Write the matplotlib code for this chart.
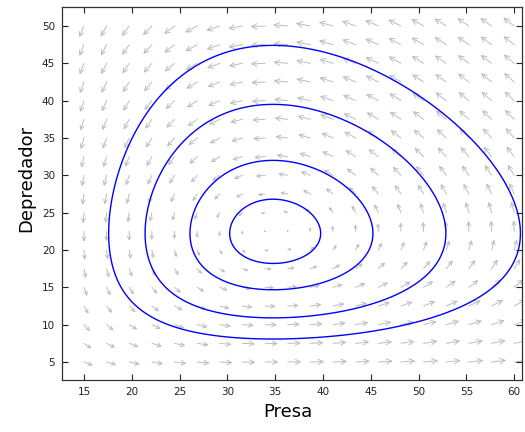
import numpy as np
import matplotlib
matplotlib.use("Agg")
import matplotlib.pyplot as plt
from matplotlib.patches import FancyArrowPatch

# Lotka-Volterra coefficients
alpha, beta = 0.4, 0.018     # prey growth / predation rate
gamma, delta = 0.8, 0.023    # predator death / conversion rate

# Each orbit is given by the predator value where it crosses the prey equilibrium (top of orbit)
orbit_top_pred = [26.8, 32.0, 39.5, 47.4]

# Direction-field grid
field_prey = np.linspace(15, 60, 20)
field_pred = np.linspace(5, 50, 19)

x_ticks = [15, 20, 25, 30, 35, 40, 45, 50, 55, 60]
y_ticks = [5, 10, 15, 20, 25, 30, 35, 40, 45, 50]
x_label = "Presa"
y_label = "Depredador"


def rates(x, y):
    return x * (alpha - beta * y), y * (delta * x - gamma)


def invariant(x, y):
    return delta * x - gamma * np.log(x) + beta * y - alpha * np.log(y)


fig = plt.figure(figsize=(5.25, 4.32), dpi=100)
ax = fig.add_axes([62 / 525, 1 - 380 / 432, 460 / 525, 373 / 432])
ax.set_xlim(12.70, 60.82)
ax.set_ylim(2.59, 52.54)

# direction field: arrow length saturates with speed
X, Y = np.meshgrid(field_prey, field_pred)
U, V = rates(X, Y)
speed = np.hypot(U, V)
length = 1.6 * (1 - np.exp(-speed / 5.0))
dU = U / speed * length
dV = V / speed * length

for x0, y0, du, dv in zip(X.ravel(), Y.ravel(), dU.ravel(), dV.ravel()):
    p0 = ax.transData.transform((x0, y0))
    p1 = ax.transData.transform((x0 + du, y0 + dv))
    lpx = np.hypot(*(p1 - p0))
    arr = FancyArrowPatch((x0, y0), (x0 + du, y0 + dv),
                          arrowstyle="->,head_length=0.36,head_width=0.18",
                          mutation_scale=lpx * 0.72, shrinkA=0, shrinkB=0,
                          color="#bdbdbd", lw=0.7)
    ax.add_patch(arr)

# closed orbits as level sets of the conserved quantity
x_eq = gamma / delta
levels = sorted(invariant(x_eq, yt) for yt in orbit_top_pred)
gx = np.linspace(12.7, 60.82, 700)
gy = np.linspace(2.59, 52.54, 700)
GX, GY = np.meshgrid(gx, gy)
ax.contour(GX, GY, invariant(GX, GY), levels=levels, colors="#0000ff",
           linewidths=1.0, linestyles="solid")

ax.set_xticks(x_ticks)
ax.set_yticks(y_ticks)
ax.tick_params(direction="in", top=True, right=True, length=4, width=0.8,
               labelsize=7.5, pad=5, colors="#222222")
for s in ax.spines.values():
    s.set_linewidth(0.9)
    s.set_color("#333333")

ax.set_xlabel(x_label, fontsize=13)
ax.set_ylabel(y_label, fontsize=13)
ax.xaxis.set_label_coords(0.49, -0.062)
ax.yaxis.set_label_coords(-0.058, 0.54)

fig.savefig("out.png", dpi=100)
